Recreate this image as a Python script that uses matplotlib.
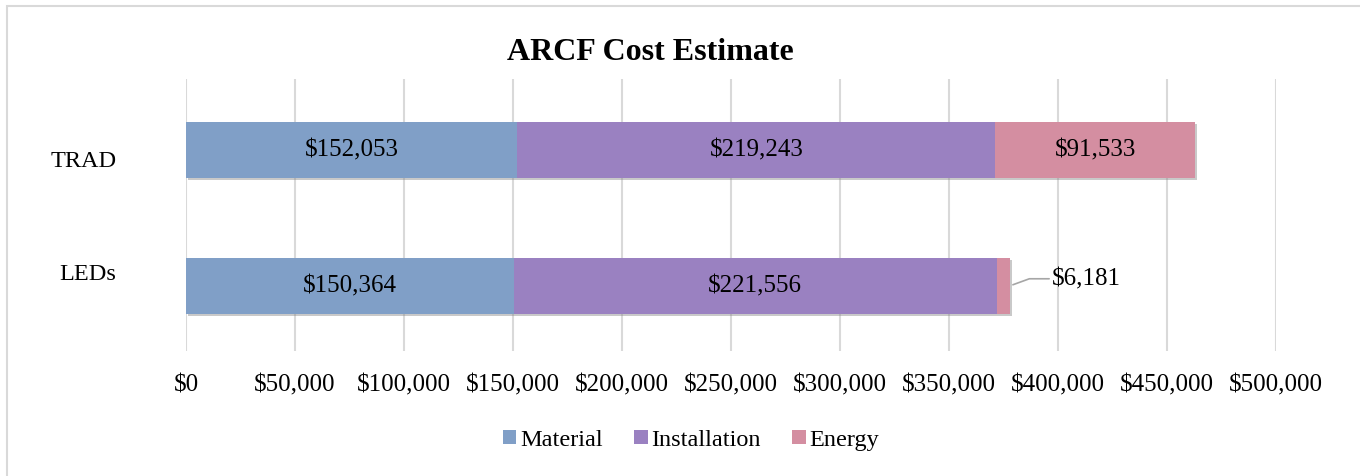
import numpy as np
import matplotlib.pyplot as plt
import matplotlib.patheffects as pe
from matplotlib.patches import Rectangle, Patch
from matplotlib.transforms import ScaledTranslation

# Data
categories = ["TRAD", "LEDs"]
material = [152053, 150364]
installation = [219243, 221556]
energy = [91533, 6181]
series_names = ["Material", "Installation", "Energy"]
colors = ["#809fc7", "#9a81c1", "#d48ea1"]
xticks = np.arange(0, 500001, 50000)

plt.rcParams['font.family'] = ['Liberation Serif', 'DejaVu Serif']

fig = plt.figure(figsize=(13.6, 4.77), dpi=100)
ax = fig.add_axes([186/1360, 1-352/477, 1090/1360, 272/477])

# light frame around the chart area
fig.patches.append(Rectangle((7/1360, -0.1), 1.2, 1 - 7/477 + 0.1, transform=fig.transFigure,
                             fill=False, edgecolor="#d9d9d9", linewidth=1.5))

y = np.arange(len(categories))
shadow = [pe.SimplePatchShadow(offset=(1.5, -1.5), shadow_rgbFace="#888888", alpha=0.45), pe.Normal()]
left = np.zeros(len(categories))
all_series = [material, installation, energy]
bar_groups = []
for vals, name, c in zip(all_series, series_names, colors):
    bars = ax.barh(y, vals, left=left, height=0.41, color=c, zorder=3,
                   path_effects=shadow)
    bar_groups.append(bars)
    left = left + np.array(vals)

# value labels
for gi, (vals, bars) in enumerate(zip(all_series, bar_groups)):
    for i, (v, b) in enumerate(zip(vals, bars)):
        txt = f"${v:,.0f}"
        cx = b.get_x() + b.get_width() / 2
        if v < 20000:
            ax.annotate(txt, xy=(b.get_x() + b.get_width(), i), xytext=(30, 5),
                        textcoords="offset points", ha="left", va="center", fontsize=18,
                        arrowprops=dict(arrowstyle="-", color="#a6a6a6", lw=1.2,
                                        shrinkA=0, shrinkB=2,
                                        connectionstyle="angle,angleA=0,angleB=20,rad=0"),
                        zorder=5)
        else:
            ax.text(cx, i, txt, ha="center", va="center", fontsize=18, zorder=5)

ax.set_xlim(0, 500000)
ax.set_ylim(1.48, -0.52)
ax.set_xticks(xticks)
ax.set_xticklabels([f"${v:,.0f}" for v in xticks], fontsize=18)
ax.set_yticks(y)
ax.set_yticklabels(categories, fontsize=17.5)
ax.tick_params(axis="x", length=0, pad=16)
ax.tick_params(axis="y", length=0, pad=50)
offsets = [8, -15]
for lab, dy in zip(ax.get_yticklabels(), offsets):
    lab.set_transform(lab.get_transform() + ScaledTranslation(0, -dy/100, fig.dpi_scale_trans))
ax.grid(axis="x", color="#d9d9d9", linewidth=1.5, zorder=0)
for s in ax.spines.values():
    s.set_visible(False)

fig.text(650/1360, 1-53/477, "ARCF Cost Estimate", ha="center", va="center",
         fontsize=23, fontweight="bold")

handles = [Patch(facecolor=c, label=n) for c, n in zip(colors, series_names)]
fig.legend(handles=handles, loc="center", bbox_to_anchor=(691/1360, 1-441/477), ncol=3,
           frameon=False, fontsize=17.5, handlelength=0.55, handleheight=0.55,
           handletextpad=0.15, columnspacing=1.3)

fig.savefig("out.png", dpi=100)
